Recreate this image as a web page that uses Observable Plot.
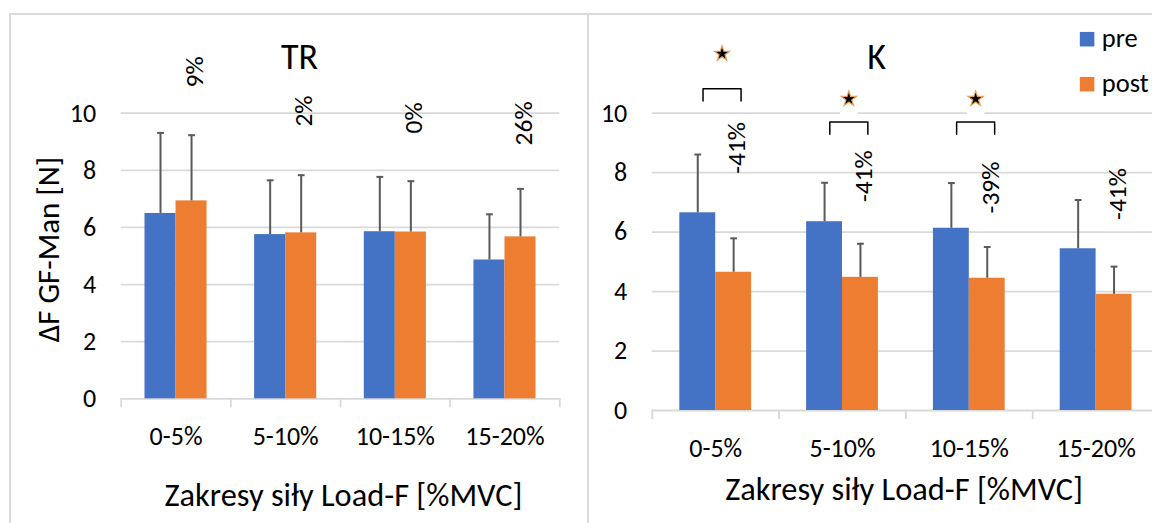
<!DOCTYPE html>
<html>
<head>
<meta charset="utf-8">
<script src="https://cdn.jsdelivr.net/npm/d3@7"></script>
<script src="https://cdn.jsdelivr.net/npm/@observablehq/plot@0.6"></script>
<style>
  html, body { margin: 0; padding: 0; background: #fff; }
  #stage { position: relative; width: 1152px; height: 523px; overflow: hidden; background: #fff; }
  .panel { position: absolute; top: 0; height: 523px; }
  .rule { position: absolute; background: #dadada; z-index: 2; }
</style>
</head>
<body>
<div id="stage">
  <div class="panel" id="tr" style="left:0;width:588px"></div>
  <div class="panel" id="k" style="left:588px;width:580px"></div>
  <div class="rule" style="left:8.7px;top:12.7px;width:1144px;height:2px"></div>
  <div class="rule" style="left:8.7px;top:12.7px;width:2px;height:511px"></div>
  <div class="rule" style="left:586.8px;top:12.7px;width:2.4px;height:511px"></div>
</div>
<script>
// ---- data ----
const categories = ["0-5%", "5-10%", "10-15%", "15-20%"];
const series = ["pre", "post"];
const yTicks = [0, 2, 4, 6, 8, 10];

// TR group: mean ΔF GF-Man [N] and SD, pre vs post
const trPre = [6.49, 5.75, 5.85, 4.86];
const trPost = [6.93, 5.81, 5.84, 5.67];
const trPreSd = [2.82, 1.90, 1.92, 1.60];
const trPostSd = [2.30, 2.02, 1.78, 1.68];
const trChange = ["9%", "2%", "0%", "26%"];

// K group
const kPre = [6.65, 6.35, 6.13, 5.44];
const kPost = [4.65, 4.48, 4.45, 3.91];
const kPreSd = [1.96, 1.31, 1.52, 1.64];
const kPostSd = [1.14, 1.13, 1.05, 0.93];
const kChange = ["-41%", "-41%", "-39%", "-41%"];
const kSignificant = [true, true, true, false];

// ---- annotation layout (in axis units) ----
const trChangeAt = [10.9, 9.53, 9.29, 8.87];
const kChangeAt = [7.96, 7.01, 6.63, 6.41];
const kBracketAt = [10.82, 9.70, 9.70, null];
const kStarAt = [12.0, 10.48, 10.48, null];

// ---- styling ----
const colors = {pre: "#4472C4", post: "#ED7D31"};
const gridColor = "#d9d9d9";
const errColor = "#595959";
const font = "Carlito, Lato, sans-serif";
const BAR = 0.283;          // bar width as a fraction of one category slot
const LABEL_SHIFT = 0.17;   // change labels sit just right of the group centre

// horizontal cap for the error whiskers
const capSymbol = {
  draw(ctx, size) {
    const r = Math.sqrt(size / Math.PI);
    ctx.moveTo(-r, 0);
    ctx.lineTo(r, 0);
  }
};

function rowsFor(pre, post, preSd, postSd) {
  return categories.flatMap((c, i) => [
    {i, category: c, series: "pre", value: pre[i], sd: preSd[i]},
    {i, category: c, series: "post", value: post[i], sd: postSd[i]}
  ]);
}
const x1Of = d => d.series === "pre" ? d.i - BAR : d.i;
const x2Of = d => d.series === "pre" ? d.i : d.i + BAR;
const xMid = d => d.series === "pre" ? d.i - BAR / 2 : d.i + BAR / 2;

function panel(cfg) {
  const rows = rowsFor(cfg.pre, cfg.post, cfg.preSd, cfg.postSd);
  const labels = categories.map((c, i) => ({i, text: cfg.change[i], at: cfg.changeAt[i]}));
  const marks = [
    Plot.gridY(yTicks, {stroke: gridColor, strokeOpacity: 1, strokeWidth: 1.8}),
    Plot.axisY({ticks: yTicks, tickSize: 0, tickPadding: 25, label: null, fontSize: 26, fill: "#000"}),
    Plot.axisX({ticks: categories.map((c, i) => i), tickFormat: i => categories[i],
                tickSize: 0, tickPadding: 28, label: null, fontSize: 26, fill: "#000"}),
    Plot.axisX({ticks: d3.range(-0.5, categories.length, 1), tickSize: 9, tickFormat: () => "",
                label: null, stroke: gridColor, strokeWidth: 1.8}),
    Plot.rectY(rows, {x1: x1Of, x2: x2Of, y1: 0, y2: "value", fill: "series"}),
    Plot.ruleX(rows, {x: xMid, y1: "value", y2: d => d.value + d.sd, stroke: errColor, strokeWidth: 2}),
    Plot.dot(rows, {x: xMid, y: d => d.value + d.sd, symbol: capSymbol, r: 3.4,
                    stroke: errColor, strokeWidth: 2, fill: "none"}),
    Plot.text(labels, {x: d => d.i + LABEL_SHIFT, y: "at", text: "text", rotate: -90,
                       textAnchor: "start", lineAnchor: "middle", fontSize: 25.5, fill: "#000"}),
    Plot.text([cfg.title], {text: d => d, frameAnchor: "top-left", dx: cfg.titleDx, dy: -44.5,
                            textAnchor: "middle", lineAnchor: "bottom", fontSize: 36, fill: "#000"}),
    Plot.text(["Zakresy siły Load-F [%MVC]"], {text: d => d, frameAnchor: "top-left",
                            dx: cfg.xTitleDx, dy: cfg.xTitleDy,
                            textAnchor: "middle", lineAnchor: "bottom", fontSize: 32.4, fill: "#000"})
  ];
  if (cfg.yTitle) {
    marks.push(Plot.text([cfg.yTitle], {text: d => d, frameAnchor: "top-left", dx: -62.2, dy: 136.3,
                            rotate: -90, textAnchor: "middle", lineAnchor: "bottom", fontSize: 31, fill: "#000"}));
  }
  if (cfg.brackets) {
    const sig = categories.map((c, i) => ({i, top: cfg.brackets[i], star: cfg.stars[i]}))
                          .filter(d => cfg.significant[d.i]);
    const path = sig.flatMap(d => [
      {i: d.i, x: d.i - 0.10, y: d.top - 0.41},
      {i: d.i, x: d.i - 0.10, y: d.top},
      {i: d.i, x: d.i + 0.20, y: d.top},
      {i: d.i, x: d.i + 0.20, y: d.top - 0.41}
    ]);
    marks.push(
      Plot.line(path, {x: "x", y: "y", z: "i", stroke: "#000", strokeWidth: 1.5, curve: "linear"}),
      Plot.dot(sig, {x: d => d.i + 0.05, y: "star", symbol: "square", r: 10, dy: 7, fill: "#fff"}),
      Plot.dot(sig, {x: d => d.i + 0.05, y: "star", symbol: "star", r: 4.8, fill: "#000",
                     stroke: "#e9a15c", strokeWidth: 1.2})
    );
  }
  if (cfg.legend) {
    series.forEach((s, k) => {
      marks.push(
        Plot.dot([s], {frameAnchor: "top-left", dx: 434.8, dy: -74 + k * 45, symbol: "square",
                       r: 8.2, fill: colors[s]}),
        Plot.text([s], {text: d => d, frameAnchor: "top-left", dx: 449.5, dy: -66.7 + k * 45,
                        textAnchor: "start", lineAnchor: "bottom", fontSize: 26.5, fill: "#000"})
      );
    });
  }
  return Plot.plot({
    width: cfg.width,
    height: 523,
    marginTop: 112.7,
    marginBottom: cfg.marginBottom,
    marginLeft: cfg.marginLeft,
    marginRight: cfg.marginRight,
    x: {type: "linear", domain: [-0.5, categories.length - 0.5]},
    y: {domain: [0, 10]},
    color: {domain: series, range: series.map(s => colors[s])},
    style: {fontFamily: font, fontSize: "21px", background: "transparent", color: "#000", overflow: "visible"},
    marks
  });
}

document.getElementById("tr").append(panel({
  title: "TR", pre: trPre, post: trPost, preSd: trPreSd, postSd: trPostSd,
  change: trChange, changeAt: trChangeAt,
  width: 588, marginLeft: 120.7, marginRight: 28.7, marginBottom: 124.7,
  titleDx: 178.3, xTitleDx: 222.3, xTitleDy: 392.3,
  yTitle: "ΔF GF-Man [N]"
}));

document.getElementById("k").append(panel({
  title: "K", pre: kPre, post: kPost, preSd: kPreSd, postSd: kPostSd,
  change: kChange, changeAt: kChangeAt,
  brackets: kBracketAt, stars: kStarAt, significant: kSignificant,
  width: 580, marginLeft: 63.8, marginRight: 9, marginBottom: 113,
  titleDx: 224.2, xTitleDx: 251.8, xTitleDy: 386.3,
  legend: true
}));
</script>
</body>
</html>
